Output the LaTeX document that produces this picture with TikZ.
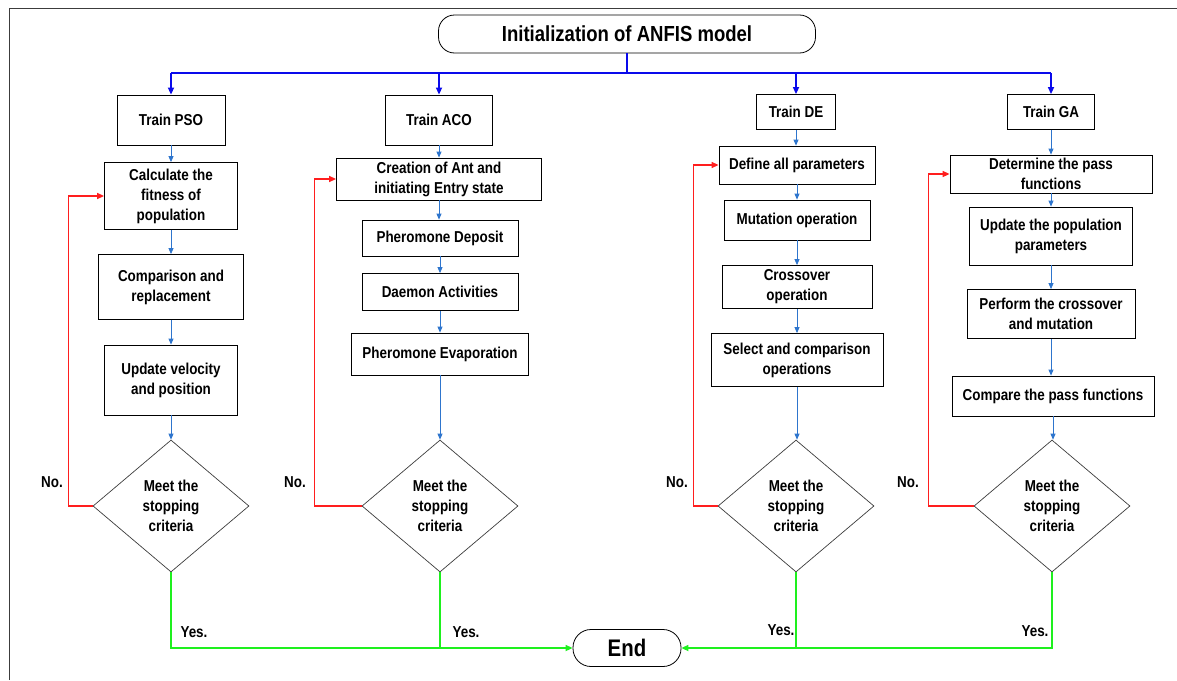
\documentclass[tikz,border=0pt]{standalone}
\usepackage{fontspec}
\setmainfont{Liberation Sans}[FakeStretch=0.85]
\usetikzlibrary{shapes.geometric,arrows.meta}
\definecolor{busblue}{RGB}{10,10,235}
\definecolor{flowblue}{RGB}{46,117,205}
\definecolor{loopred}{RGB}{255,30,30}
\definecolor{yesgreen}{RGB}{30,240,30}
\definecolor{dgray}{RGB}{60,60,60}
\begin{document}
\begin{tikzpicture}[x=1pt,y=-1pt,
  every node/.style={font=\bfseries\fontsize{15.8}{20}\selectfont},
  box/.style={draw=black,line width=0.8pt,align=center,inner sep=0pt,fill=white},
  dia/.style={diamond,draw=dgray,line width=0.7pt,align=center,inner sep=0pt,minimum width=156,minimum height=132},
  term/.style={draw=black,line width=0.8pt,rounded corners=16pt,inner sep=0pt},
  bus/.style={draw=busblue,line width=1.6pt,-{Triangle[length=7pt,width=6pt]}},
  busline/.style={draw=busblue,line width=1.6pt},
  flow/.style={draw=flowblue,line width=0.8pt,-{Triangle[length=6pt,width=5pt]}},
  noloop/.style={draw=loopred,line width=1.4pt,-{Triangle[length=7pt,width=6pt]}},
  yes/.style={draw=yesgreen,line width=1.6pt},
  yesarr/.style={draw=yesgreen,line width=1.6pt,-{Triangle[length=7pt,width=6pt]}},
  lbl/.style={inner sep=0pt}
]
\useasboundingbox (0,0) rectangle (1177,680);
% frame
\draw[line width=0.8pt,draw=dgray] (9,680) -- (9,8) -- (1177,8);

% top / end
\node[term,minimum width=377,minimum height=38,font=\bfseries\fontsize{21.8}{26}\selectfont] (init) at (627,34) {Initialization of ANFIS model};
\node[term,minimum width=108,minimum height=37,rounded corners=18pt,font=\bfseries\fontsize{24}{28}\selectfont] (end) at (627,648) {End};

% column 1 PSO
\node[box,minimum width=108,minimum height=50] (a0) at (171,120) {Train PSO};
\node[box,minimum width=133,minimum height=67] (a1) at (171,196) {Calculate the\\fitness of\\population};
\node[box,minimum width=145,minimum height=65] (a2) at (171,287) {Comparison and\\replacement};
\node[box,minimum width=133,minimum height=70] (a3) at (171,380) {Update velocity\\and position};
\node[dia] (a4) at (171,506) {Meet the\\stopping\\criteria};

% column 2 ACO
\node[box,minimum width=107,minimum height=50] (b0) at (439,120) {Train ACO};
\node[box,minimum width=205,minimum height=42] (b1) at (439,179) {Creation of Ant and\\initiating Entry state};
\node[box,minimum width=156,minimum height=36] (b2) at (440,238) {Pheromone Deposit};
\node[box,minimum width=156,minimum height=37] (b3) at (440,292) {Daemon Activities};
\node[box,minimum width=177,minimum height=42] (b4) at (440,354) {Pheromone Evaporation};
\node[dia] (b5) at (440,506) {Meet the\\stopping\\criteria};

% column 3 DE
\node[box,minimum width=79,minimum height=35] (c0) at (796,112) {Train DE};
\node[box,minimum width=156,minimum height=38] (c1) at (797,165) {Define all parameters};
\node[box,minimum width=146,minimum height=40] (c2) at (797,220) {Mutation operation};
\node[box,minimum width=150,minimum height=43] (c3) at (797,287) {Crossover\\operation};
\node[box,minimum width=172,minimum height=53] (c4) at (797,360) {Select and comparison\\operations};
\node[dia] (c5) at (796,506) {Meet the\\stopping\\criteria};

% column 4 GA
\node[box,minimum width=87,minimum height=35] (d0) at (1051,112) {Train GA};
\node[box,minimum width=202,minimum height=38] (d1) at (1051,174) {Determine the pass\\functions};
\node[box,minimum width=163,minimum height=58] (d2) at (1051,236) {Update the population\\parameters};
\node[box,minimum width=168,minimum height=49] (d3) at (1051,314) {Perform the crossover\\and mutation};
\node[box,minimum width=202,minimum height=40] (d4) at (1053,396) {Compare the pass functions};
\node[dia] (d5) at (1052,506) {Meet the\\stopping\\criteria};

% bus
\coordinate (j) at (627,73);
\draw[busline] (init.south) -- (j);
\draw[busline] (a0.north |- j) -- (d0.north |- j);
\draw[bus] (a0.north |- j) -- (a0.north);
\draw[bus] (b0.north |- j) -- (b0.north);
\draw[bus] (c0.north |- j) -- (c0.north);
\draw[bus] (d0.north |- j) -- (d0.north);

% flows
\foreach \u/\v in {a0/a1,a1/a2,a2/a3,a3/a4,b0/b1,b1/b2,b2/b3,b3/b4,b4/b5,c0/c1,c1/c2,c2/c3,c3/c4,c4/c5,d0/d1,d1/d2,d2/d3,d3/d4,d4/d5}
  \draw[flow] (\u.south) -- (\u.south |- \v.north);

% no loops
\draw[noloop] (a4.west) -- ++(-24,0) |- (a1.west);
\draw[noloop] (b5.west) -- ++(-47,0) |- (b1.west);
\draw[noloop] (c5.west) -- ++(-24,0) |- (c1.west);
\draw[noloop] (d5.west) -- ++(-45,0) |- (d1.west);
\node[lbl] (n1) at (52,482) {No.};
\node[lbl] (n2) at (295,482) {No.};
\node[lbl] (n3) at (677,482) {No.};
\node[lbl] (n4) at (908,482) {No.};

% yes
\draw[yesarr] (a4.south) |- (end.west);
\draw[yes] (b5.south) -- (b5.south |- end.west);
\draw[yesarr] (d5.south) |- (end.east);
\draw[yes] (c5.south) -- (c5.south |- end.east);
\node[lbl] (y1) at (194,632) {Yes.};
\node[lbl] (y2) at (466,632) {Yes.};
\node[lbl] (y3) at (781,630) {Yes.};
\node[lbl] (y4) at (1035,631) {Yes.};
\end{tikzpicture}
\end{document}
